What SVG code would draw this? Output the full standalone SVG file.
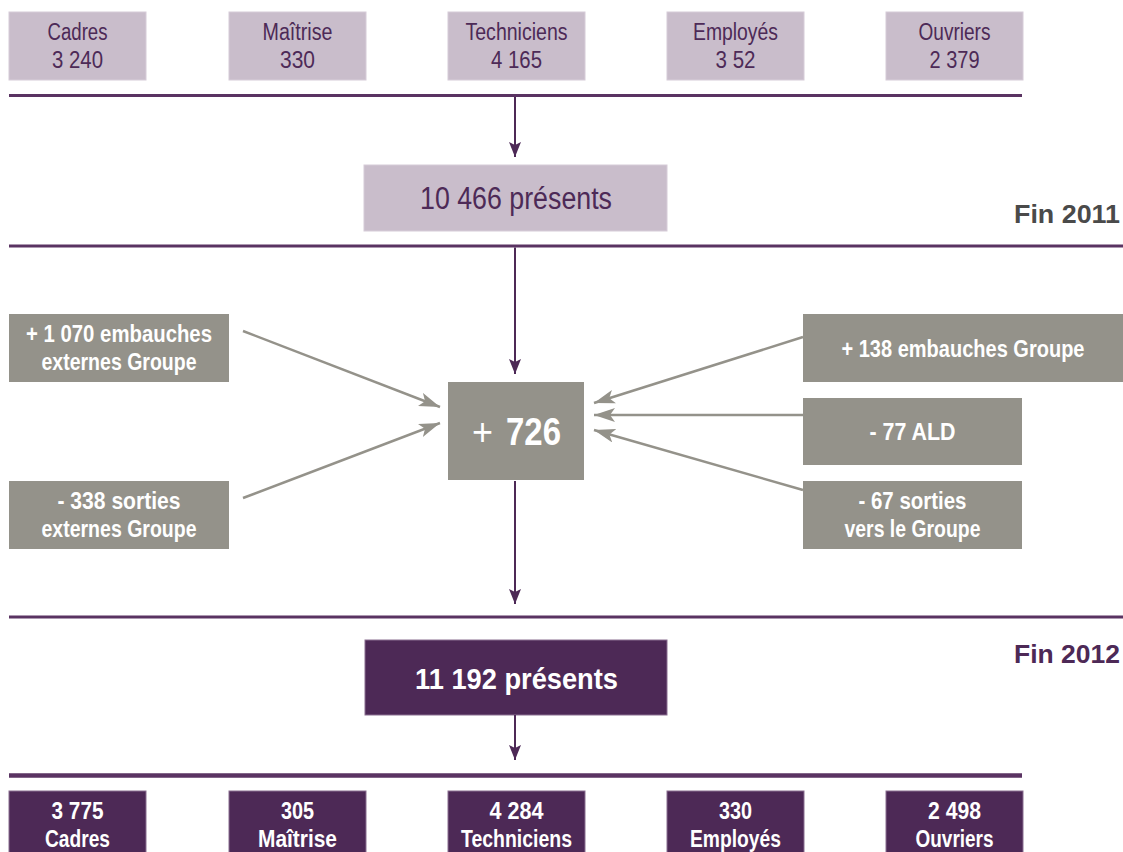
<svg xmlns="http://www.w3.org/2000/svg" width="1123" height="852" viewBox="0 0 1123 852">
<style>
text{font-family:"Liberation Sans Narrow","Liberation Sans",Arial,sans-serif;text-anchor:middle}
.lb{fill:#c9bdcb;stroke:#d6ccd8;stroke-width:1}
.lt{fill:#4d2a57;font-size:23.5px}
.gb{fill:#94928a}
.gt{fill:#fff;font-size:24.5px;font-weight:bold}
.db{fill:#4d2956;stroke:#8a6e90;stroke-width:1}
.dt{fill:#fff;font-size:23.5px;font-weight:bold}
.rule{stroke:#5a3362;stroke-width:3;fill:none}
.pa{stroke:#4d2956;stroke-width:2;fill:none;marker-end:url(#ap)}
.ga{stroke:#94928a;stroke-width:2.5;fill:none;marker-end:url(#ag)}
</style>
<defs>
<marker id="ap" markerUnits="userSpaceOnUse" markerWidth="16" markerHeight="12" refX="15" refY="6" orient="auto"><path d="M0,0 L15,6 L0,12 L3,6 z" fill="#4d2956"/></marker>
<marker id="ag" markerUnits="userSpaceOnUse" markerWidth="22" markerHeight="14" refX="21" refY="7" orient="auto"><path d="M0,0 L21,7 L0,14 L5,7 z" fill="#94928a"/></marker>
</defs>
<rect width="1123" height="852" fill="#fff"/>

<g id="rules">
<line class="rule" x1="9" y1="95.5" x2="1022" y2="95.5"/>
<line class="rule" x1="9" y1="246" x2="1123" y2="246"/>
<line class="rule" x1="9" y1="617" x2="1123" y2="617"/>
<line class="rule" x1="9" y1="775.5" x2="1022" y2="775.5" style="stroke-width:4.5"/>
</g>

<g id="top-cadres"><rect class="lb" x="9" y="12" width="137" height="68"/><text class="lt" x="77.5" y="40" textLength="60" lengthAdjust="spacingAndGlyphs">Cadres</text><text class="lt" x="77.5" y="68" textLength="51" lengthAdjust="spacingAndGlyphs">3 240</text></g>
<g id="top-maitrise"><rect class="lb" x="229" y="12" width="137" height="68"/><text class="lt" x="297.5" y="40" textLength="70" lengthAdjust="spacingAndGlyphs">Maîtrise</text><text class="lt" x="297.5" y="68" textLength="35" lengthAdjust="spacingAndGlyphs">330</text></g>
<g id="top-techniciens"><rect class="lb" x="448" y="12" width="137" height="68"/><text class="lt" x="516.5" y="40" textLength="102" lengthAdjust="spacingAndGlyphs">Techniciens</text><text class="lt" x="516.5" y="68" textLength="51" lengthAdjust="spacingAndGlyphs">4 165</text></g>
<g id="top-employes"><rect class="lb" x="667" y="12" width="137" height="68"/><text class="lt" x="735.5" y="40" textLength="85" lengthAdjust="spacingAndGlyphs">Employés</text><text class="lt" x="735.5" y="68" textLength="40" lengthAdjust="spacingAndGlyphs">3 52</text></g>
<g id="top-ouvriers"><rect class="lb" x="886" y="12" width="137" height="68"/><text class="lt" x="954.5" y="40" textLength="72" lengthAdjust="spacingAndGlyphs">Ouvriers</text><text class="lt" x="954.5" y="68" textLength="50" lengthAdjust="spacingAndGlyphs">2 379</text></g>

<g id="presents-2011"><rect class="lb" x="364" y="165" width="303" height="66"/><text class="lt" x="516" y="209" style="font-size:31px" textLength="192" lengthAdjust="spacingAndGlyphs">10 466 présents</text></g>
<g id="fin-2011"><text x="1120" y="223" style="text-anchor:end;font-size:26px;font-weight:bold;fill:#4a4a4a" textLength="106" lengthAdjust="spacingAndGlyphs">Fin 2011</text></g>

<g id="embauches-externes"><rect class="gb" x="9" y="314" width="220" height="68"/><text class="gt" x="119" y="342" textLength="186" lengthAdjust="spacingAndGlyphs">+ 1 070 embauches</text><text class="gt" x="119" y="370" textLength="155" lengthAdjust="spacingAndGlyphs">externes Groupe</text></g>
<g id="sorties-externes"><rect class="gb" x="9" y="481" width="220" height="68"/><text class="gt" x="119" y="509" textLength="123" lengthAdjust="spacingAndGlyphs">- 338 sorties</text><text class="gt" x="119" y="537" textLength="155" lengthAdjust="spacingAndGlyphs">externes Groupe</text></g>
<g id="solde"><rect class="gb" x="448" y="382" width="136" height="98"/><text x="482.5" y="445" style="fill:#fff;font-size:38px" textLength="21" lengthAdjust="spacingAndGlyphs">+</text><text x="533.5" y="445" style="fill:#fff;font-size:38px;font-weight:bold" textLength="55" lengthAdjust="spacingAndGlyphs">726</text></g>
<g id="embauches-groupe"><rect class="gb" x="803" y="314" width="320" height="68"/><text class="gt" x="963" y="357" textLength="243" lengthAdjust="spacingAndGlyphs">+ 138 embauches Groupe</text></g>
<g id="ald"><rect class="gb" x="803" y="398" width="219" height="67"/><text class="gt" x="912.5" y="440" textLength="86" lengthAdjust="spacingAndGlyphs">- 77 ALD</text></g>
<g id="sorties-groupe"><rect class="gb" x="803" y="481" width="219" height="68"/><text class="gt" x="912.5" y="509" textLength="108" lengthAdjust="spacingAndGlyphs">- 67 sorties</text><text class="gt" x="912.5" y="537" textLength="136" lengthAdjust="spacingAndGlyphs">vers le Groupe</text></g>

<g id="presents-2012"><rect class="db" x="365" y="640" width="302" height="75"/><text x="516.5" y="689" style="fill:#fff;font-size:30px;font-weight:bold" textLength="203" lengthAdjust="spacingAndGlyphs">11 192 présents</text></g>
<g id="fin-2012"><text x="1120" y="663" style="text-anchor:end;font-size:26px;font-weight:bold;fill:#4d2956" textLength="106" lengthAdjust="spacingAndGlyphs">Fin 2012</text></g>

<g id="bot-cadres"><rect class="db" x="9" y="791" width="137" height="70"/><text class="dt" x="77.5" y="819" textLength="52" lengthAdjust="spacingAndGlyphs">3 775</text><text class="dt" x="77.5" y="847" textLength="65" lengthAdjust="spacingAndGlyphs">Cadres</text></g>
<g id="bot-maitrise"><rect class="db" x="229" y="791" width="137" height="70"/><text class="dt" x="297.5" y="819" textLength="33" lengthAdjust="spacingAndGlyphs">305</text><text class="dt" x="297.5" y="847" textLength="79" lengthAdjust="spacingAndGlyphs">Maîtrise</text></g>
<g id="bot-techniciens"><rect class="db" x="448" y="791" width="137" height="70"/><text class="dt" x="516.5" y="819" textLength="54" lengthAdjust="spacingAndGlyphs">4 284</text><text class="dt" x="516.5" y="847" textLength="111" lengthAdjust="spacingAndGlyphs">Techniciens</text></g>
<g id="bot-employes"><rect class="db" x="667" y="791" width="137" height="70"/><text class="dt" x="735.5" y="819" textLength="33" lengthAdjust="spacingAndGlyphs">330</text><text class="dt" x="735.5" y="847" textLength="91" lengthAdjust="spacingAndGlyphs">Employés</text></g>
<g id="bot-ouvriers"><rect class="db" x="886" y="791" width="137" height="70"/><text class="dt" x="954.5" y="819" textLength="53" lengthAdjust="spacingAndGlyphs">2 498</text><text class="dt" x="954.5" y="847" textLength="78" lengthAdjust="spacingAndGlyphs">Ouvriers</text></g>

<g id="connectors">
<line class="pa" x1="515" y1="97" x2="515" y2="157"/>
<line class="pa" x1="515" y1="247.5" x2="515" y2="374"/>
<line class="pa" x1="515" y1="481" x2="515" y2="604"/>
<line class="pa" x1="515" y1="715" x2="515" y2="760"/>
<line class="ga" x1="243" y1="331" x2="440" y2="407"/>
<line class="ga" x1="243" y1="498" x2="440" y2="423"/>
<line class="ga" x1="803" y1="337" x2="594" y2="403"/>
<line class="ga" x1="803" y1="415" x2="594" y2="415"/>
<line class="ga" x1="803" y1="490" x2="594" y2="430"/>
</g>
</svg>
